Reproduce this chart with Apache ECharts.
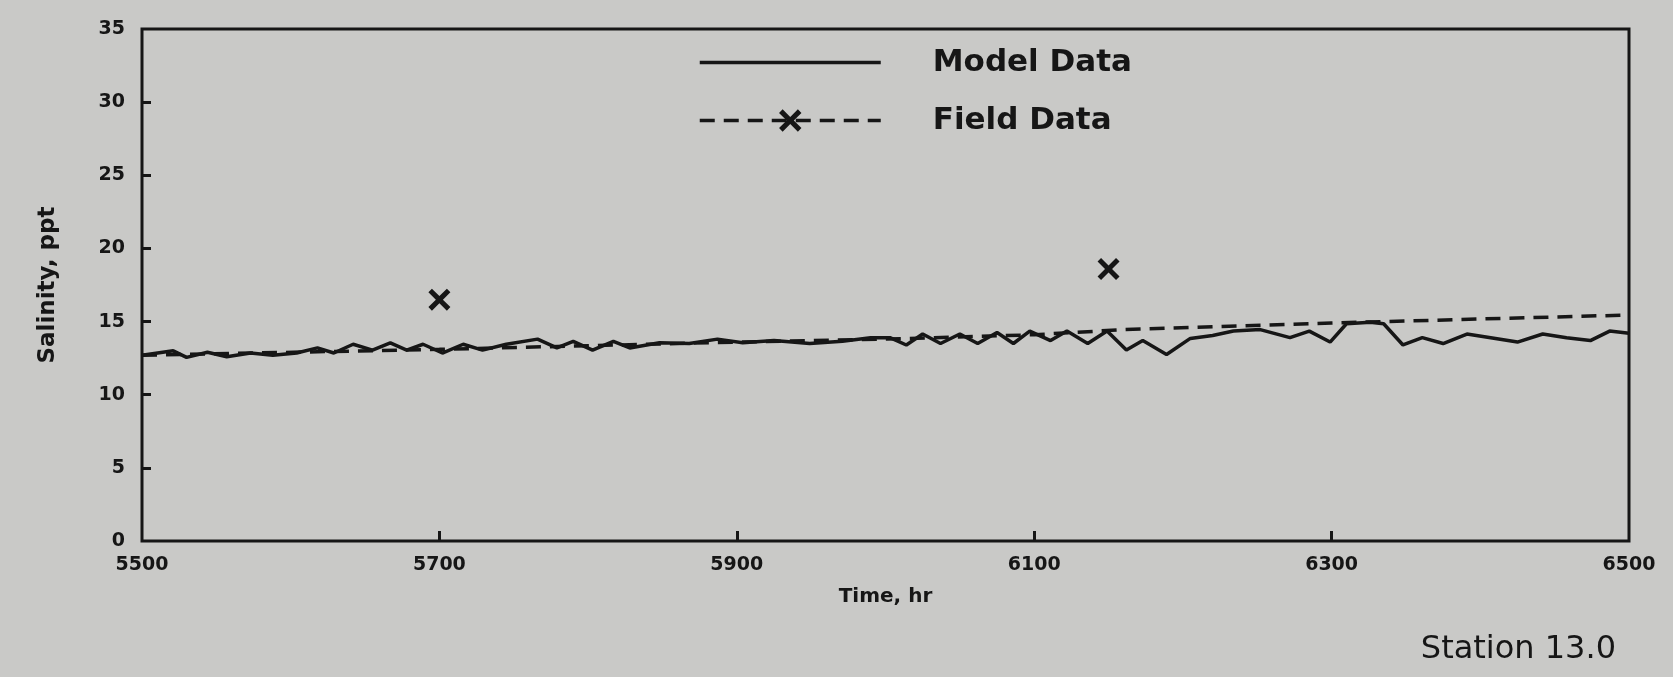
<!DOCTYPE html>
<html>
<head>
<meta charset="utf-8">
<script src="https://cdn.jsdelivr.net/npm/echarts@6/dist/echarts.min.js"></script>
<style>
html,body{margin:0;padding:0;background:#c9c9c7;}
#chart{width:1673px;height:677px;}
</style>
</head>
<body>
<div id="chart"></div>
<script>
// ---- Data ----
const xTicks = [5500, 5700, 5900, 6100, 6300, 6500];
const yTicks = [0, 5, 10, 15, 20, 25, 30, 35];

const modelHours = [5500,5521,5530,5544,5557,5573,5588,5604,5618,5629,5642,5655,5667,5678,5689,5702,5716,5729,5745,5766,5779,5790,5803,5817,5828,5848,5868,5887,5904,5925,5949,5971,5990,6003,6014,6025,6037,6050,6062,6075,6086,6097,6111,6122,6136,6149,6162,6173,6189,6205,6220,6234,6252,6272,6285,6299,6310,6326,6335,6348,6361,6375,6391,6407,6425,6442,6458,6474,6487,6500];
const modelSalinity = [12.7,13.0,12.55,12.9,12.6,12.85,12.7,12.85,13.2,12.85,13.45,13.05,13.55,13.05,13.45,12.85,13.45,13.05,13.45,13.8,13.2,13.65,13.05,13.65,13.2,13.55,13.5,13.8,13.55,13.7,13.5,13.65,13.9,13.9,13.4,14.15,13.5,14.15,13.5,14.25,13.5,14.35,13.7,14.35,13.5,14.35,13.05,13.7,12.75,13.85,14.05,14.35,14.45,13.9,14.35,13.6,14.85,14.95,14.85,13.4,13.9,13.5,14.15,13.9,13.6,14.15,13.9,13.7,14.35,14.2];

const fieldLineHours = [5500, 5700, 5900, 6000, 6100, 6160, 6300, 6500];
const fieldLineSalinity = [12.7, 13.1, 13.6, 13.8, 14.1, 14.45, 14.9, 15.45];

const fieldPointHours = [5700, 6150];
const fieldPointSalinity = [16.5, 18.6];

// ---- Build ----
const zip = (a, b) => a.map((v, i) => [v, b[i]]);
const X_PATH = 'path://M0,1.6 L1.6,0 L5,3.4 L8.4,0 L10,1.6 L6.6,5 L10,8.4 L8.4,10 L5,6.6 L1.6,10 L0,8.4 L3.4,5 Z';
const INK = '#161616';
const boldFont = "'DejaVu Sans', sans-serif";

const chart = echarts.init(document.getElementById('chart'), null, {renderer: 'canvas'});
chart.setOption({
  backgroundColor: '#c9c9c7',
  animation: false,
  title: {
    text: 'Station 13.0',
    right: 52,
    top: 629,
    textStyle: {fontFamily: boldFont, fontSize: 32, fontWeight: 'normal', color: INK}
  },
  legend: {
    orient: 'vertical',
    left: 693,
    top: 42,
    itemWidth: 181,
    itemHeight: 28,
    itemGap: 27,
    lineStyle: {width: 3.5},
    textStyle: {fontFamily: boldFont, fontWeight: 'bold', fontSize: 31, color: INK, lineHeight: 28, padding: [0, 0, 0, 47]},
    data: [
      {name: 'Model Data', icon: 'path://M0,0 L181,0 L181,3.5 L0,3.5 Z'},
      {name: 'Field Data'}
    ]
  },
  grid: {
    left: 142, right: 44, top: 29, bottom: 136,
    show: true, borderColor: INK, borderWidth: 3, backgroundColor: 'transparent'
  },
  xAxis: {
    type: 'value', min: 5500, max: 6500,
    name: 'Time, hr', nameLocation: 'middle', nameGap: 46,
    nameTextStyle: {fontFamily: boldFont, fontWeight: 'bold', fontSize: 20, color: INK},
    axisLine: {show: false},
    axisTick: {show: true, inside: true, length: 10, lineStyle: {color: INK, width: 3}, customValues: xTicks.slice(1, -1)},
    axisLabel: {customValues: xTicks, margin: 15, fontFamily: boldFont, fontWeight: 'bold', fontSize: 19, color: INK, formatter: v => String(v)},
    splitLine: {show: false}
  },
  yAxis: {
    type: 'value', min: 0, max: 35, interval: 5,
    name: 'Salinity, ppt', nameLocation: 'middle', nameGap: 82,
    nameTextStyle: {fontFamily: boldFont, fontWeight: 'bold', fontSize: 23, color: INK},
    axisLine: {show: false},
    axisTick: {show: true, inside: true, length: 9, lineStyle: {color: INK, width: 3}, customValues: yTicks.slice(1, -1)},
    axisLabel: {margin: 17, fontFamily: boldFont, fontWeight: 'bold', fontSize: 19, color: INK, customValues: yTicks},
    splitLine: {show: false}
  },
  series: [
    {
      name: 'Model Data', type: 'line', data: zip(modelHours, modelSalinity),
      showSymbol: false, symbol: 'none', lineStyle: {color: INK, width: 3.5}, itemStyle: {color: INK},
      z: 3
    },
    {
      name: 'Field Data', type: 'line', data: zip(fieldLineHours, fieldLineSalinity),
      showSymbol: false, symbol: X_PATH, symbolSize: 20,
      lineStyle: {color: INK, width: 3.5, type: [15, 9]}, itemStyle: {color: INK, opacity: 1},
      z: 2
    },
    {
      name: 'Field Points', type: 'scatter', data: zip(fieldPointHours, fieldPointSalinity),
      symbol: X_PATH, symbolSize: 22, itemStyle: {color: INK, opacity: 1}, z: 4
    }
  ]
});
</script>
</body>
</html>
